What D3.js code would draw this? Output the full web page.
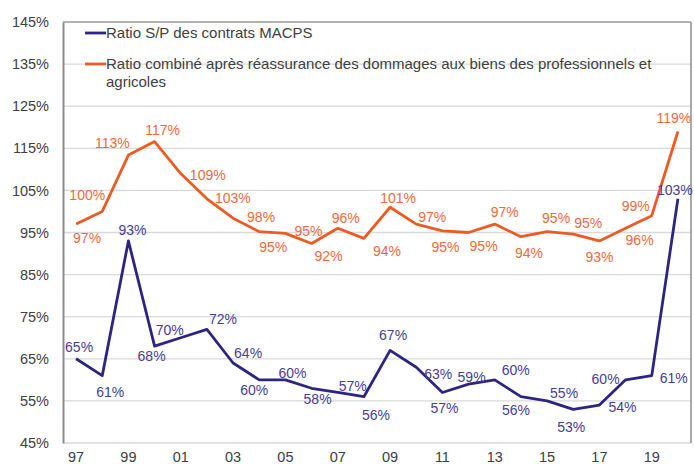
<!DOCTYPE html>
<html>
<head>
<meta charset="utf-8">
<script src="https://cdn.jsdelivr.net/npm/d3@7"></script>
<style>
	body { margin: 0; background: #fff; }
	svg { display: block; font-family: "Liberation Sans", Arial, sans-serif; }
</style>
</head>
<body>
<svg width="694" height="464"></svg>
<script>
// data
const years = [1997, 1998, 1999, 2000, 2001, 2002, 2003, 2004, 2005, 2006, 2007, 2008,
	2009, 2010, 2011, 2012, 2013, 2014, 2015, 2016, 2017, 2018, 2019, 2020];
const macps = [65, 61, 93, 68, 70, 72, 64, 60, 60, 58, 57, 56, 67, 63, 57, 59, 60, 56, 55, 53, 54, 60, 61, 103];
const combine = [97, 100, 113.4, 116.6, 109, 103, 98.4, 95.2, 94.8, 92.4, 96, 93.6, 101, 97, 95.4, 95, 97, 94, 95.2, 94.6, 93, 96, 99, 119];
const yTicks = [45, 55, 65, 75, 85, 95, 105, 115, 125, 135, 145];
const xTickYears = [1997, 1999, 2001, 2003, 2005, 2007, 2009, 2011, 2013, 2015, 2017, 2019];
const seriesNames = [
	"Ratio S/P des contrats MACPS",
	["Ratio combiné après réassurance des dommages aux biens des professionnels et", "agricoles"]
];

// where each data label sits relative to its point (like the manual placement in the original)
const macpsLabelOffset = [[3, -12], [8, 16], [4, -11], [-3, 10], [-11, -8], [16, -10], [15, -10], [-5, 10],
	[7, -7], [6, 11], [15, -6], [12, 18], [3, -15], [22, 7], [2, 16], [3, -7], [21, -10], [-5, 13],
	[17, -8], [-2, 18], [23, 2], [-20, -1], [22, 2], [-3, -9]];
const combineLabelOffset = [[11, 14], [-15, -16], [-16, -12], [8, -11], [27, 2], [26, -1], [28, -1], [14, 15],
	[23, -2], [17, 13], [8, -10], [23, 13], [8, -9], [16, -7], [3, 16], [15, 14], [10, -12], [8, 16],
	[9, -14], [15, -11], [0, 16], [14, 12], [-16, -10], [-4, -13]];

const blue = "#2d2582", blueText = "#463d98";
const orange = "#ee5a22", orangeText = "#f2683a";

const svg = d3.select("svg");
const plotLeft = 63, plotRight = 691, plotTop = 22, plotBottom = 443;

const x = d3.scaleBand().domain(years).range([plotLeft, plotRight]);
const y = d3.scaleLinear().domain([45, 145]).range([plotBottom, plotTop]);
const cx = (d) => x(d) + x.bandwidth() / 2;

// gridlines
svg.append("g")
	.selectAll("line")
	.data(yTicks.filter((t) => t > 45 && t < 145))
	.join("line")
	.attr("x1", plotLeft)
	.attr("x2", plotRight)
	.attr("y1", (d) => y(d))
	.attr("y2", (d) => y(d))
	.attr("stroke", "#d9d9d9")
	.attr("stroke-width", 1.3);

// frame
svg.append("line").attr("x1", plotLeft).attr("x2", plotRight).attr("y1", y(45)).attr("y2", y(45))
	.attr("stroke", "#d9d9d9").attr("stroke-width", 1.3);
svg.append("line").attr("x1", plotLeft).attr("x2", plotRight).attr("y1", y(145)).attr("y2", y(145))
	.attr("stroke", "#9a9a9a").attr("stroke-width", 1.3);
svg.append("line").attr("x1", plotRight).attr("x2", plotRight).attr("y1", y(145)).attr("y2", y(45))
	.attr("stroke", "#8c8c8c").attr("stroke-width", 1.5);

// y axis
const yAxis = svg.append("g")
	.attr("transform", "translate(" + plotLeft + ",0)")
	.call(d3.axisLeft(y).tickValues(yTicks).tickSize(0).tickPadding(14).tickFormat((d) => d + "%"));
yAxis.select(".domain").attr("stroke", "#8c8c8c").attr("stroke-width", 2);
yAxis.selectAll("text")
	.attr("font-size", "14.5px")
	.attr("font-family", "Liberation Sans, Arial, sans-serif")
	.attr("fill", "#404040");

// x axis
const xAxis = svg.append("g")
	.attr("transform", "translate(0," + plotBottom + ")")
	.call(d3.axisBottom(x).tickValues(xTickYears).tickSize(0).tickPadding(9)
		.tickFormat((d) => String(d).slice(2)));
xAxis.select(".domain").remove();
xAxis.selectAll("text")
	.attr("font-size", "14.5px")
	.attr("font-family", "Liberation Sans, Arial, sans-serif")
	.attr("fill", "#404040");

// lines
const line = d3.line().x((d, i) => cx(years[i])).y((d) => y(d));

svg.append("path")
	.datum(combine)
	.attr("d", line)
	.attr("fill", "none")
	.attr("stroke", orange)
	.attr("stroke-width", 2.8)
	.attr("stroke-linejoin", "round");

svg.append("path")
	.datum(macps)
	.attr("d", line)
	.attr("fill", "none")
	.attr("stroke", blue)
	.attr("stroke-width", 2.8)
	.attr("stroke-linejoin", "round");

// data labels
const pct = (d) => Math.round(d) + "%";
function drawLabels(values, offsets, color) {
	svg.append("g")
		.selectAll("text")
		.data(values)
		.join("text")
		.attr("x", (d, i) => cx(years[i]) + offsets[i][0])
		.attr("y", (d, i) => y(d) + offsets[i][1])
		.attr("dy", "0.35em")
		.attr("text-anchor", "middle")
		.attr("font-size", "14px")
		.attr("fill", color)
		.text(pct);
}
drawLabels(combine, combineLabelOffset, orangeText);
drawLabels(macps, macpsLabelOffset, blueText);

// legend
const legend = svg.append("g");
legend.append("line").attr("x1", 85).attr("x2", 106).attr("y1", 33).attr("y2", 33)
	.attr("stroke", blue).attr("stroke-width", 2.8);
legend.append("text").attr("x", 106).attr("y", 38).attr("font-size", "15px").attr("fill", "#404040")
	.text(seriesNames[0]);
legend.append("line").attr("x1", 85).attr("x2", 106).attr("y1", 64).attr("y2", 64)
	.attr("stroke", orange).attr("stroke-width", 2.8);
legend.append("text").attr("x", 106).attr("y", 69).attr("font-size", "15px").attr("fill", "#404040")
	.text(seriesNames[1][0]);
legend.append("text").attr("x", 106).attr("y", 87).attr("font-size", "15px").attr("fill", "#404040")
	.text(seriesNames[1][1]);
</script>
</body>
</html>
